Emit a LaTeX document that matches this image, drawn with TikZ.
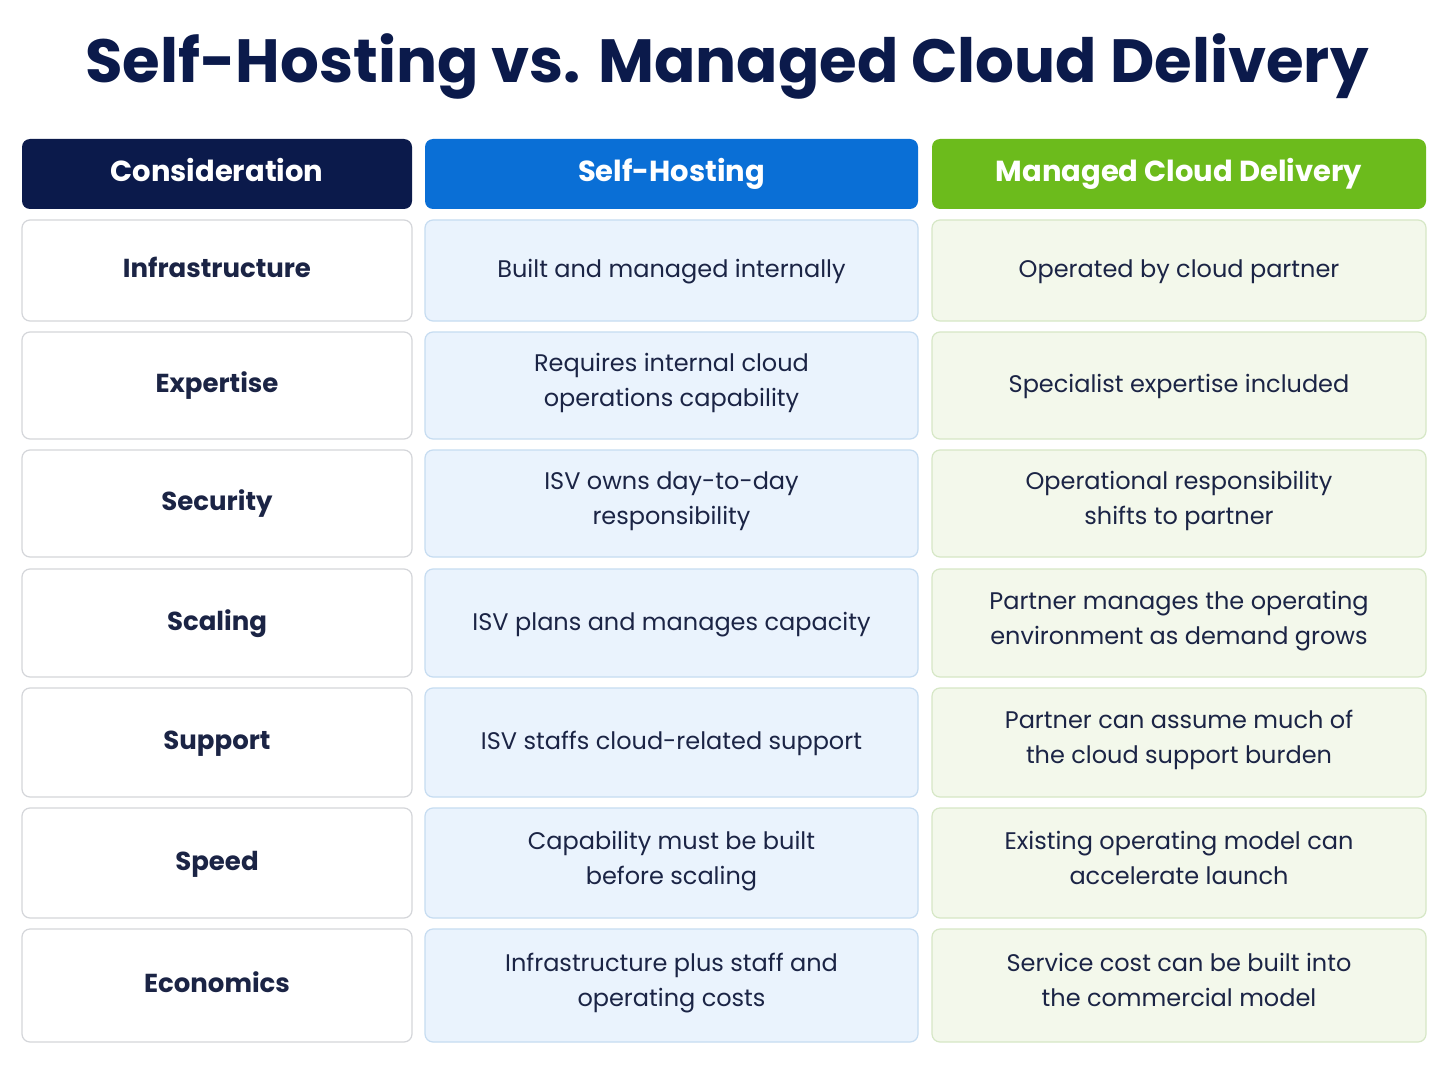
\documentclass[tikz,border=0pt]{standalone}
\usepackage{fontspec}
\setmainfont{Poppins}
\usepackage{tikz}
\usetikzlibrary{positioning}
\definecolor{navy}{HTML}{0B1A4B}
\definecolor{ink}{HTML}{1B2445}
\definecolor{hblue}{HTML}{0A6FD6}
\definecolor{hgreen}{HTML}{6CBB1C}
\definecolor{bfill}{HTML}{EAF3FD}
\definecolor{bline}{HTML}{C6DCF1}
\definecolor{gfill}{HTML}{F3F8EB}
\definecolor{gline}{HTML}{D6E7C6}
\definecolor{wline}{HTML}{D4D6DA}
\begin{document}
\begin{tikzpicture}[x=1pt,y=-1pt,
    cell/.style={rounded corners=8pt,line width=1.2pt,align=center,inner sep=0pt,
        font=\fontsize{24}{35}\selectfont\strut,text=ink},
    keycol/.style={cell,draw=wline,fill=white,minimum width=390pt,font=\fontsize{26}{35}\selectfont\bfseries\strut},
    selfcol/.style={cell,draw=bline,fill=bfill,minimum width=493pt},
    cloudcol/.style={cell,draw=gline,fill=gfill,minimum width=494pt},
    head/.style={rounded corners=8pt,minimum height=70pt,text=white,inner sep=0pt,
        font=\fontsize{29}{36}\selectfont\bfseries\strut}]
\useasboundingbox[fill=white] (0,0) rectangle (1448,1086);
\node[font=\fontsize{61}{70}\selectfont\bfseries,text=navy] (title) at (727,66) {Self-Hosting vs. Managed Cloud Delivery};
% header row
\node[head,fill=navy,minimum width=390pt] (hcon) at (217,174) {Consideration};
\node[head,fill=hblue,minimum width=493pt] (hself) at (671.5,174) {Self-Hosting};
\node[head,fill=hgreen,minimum width=494pt] (hcloud) at (1179,174) {Managed Cloud Delivery};
% body rows
\node[keycol,minimum height=101pt] (infra) at (217,270.5) {Infrastructure};
\node[selfcol,minimum height=101pt] (infraS) at (671.5,270.5) {Built and managed internally};
\node[cloudcol,minimum height=101pt] (infraC) at (1179,270.5) {Operated by cloud partner};

\node[keycol,minimum height=107pt] (exp) at (217,385.5) {Expertise};
\node[selfcol,minimum height=107pt] (expS) at (671.5,385.5) {Requires internal cloud\\operations capability};
\node[cloudcol,minimum height=107pt] (expC) at (1179,385.5) {Specialist expertise included};

\node[keycol,minimum height=107pt] (sec) at (217,503.5) {Security};
\node[selfcol,minimum height=107pt] (secS) at (671.5,503.5) {ISV owns day-to-day\\responsibility};
\node[cloudcol,minimum height=107pt] (secC) at (1179,503.5) {Operational responsibility\\shifts to partner};

\node[keycol,minimum height=108pt] (scal) at (217,623) {Scaling};
\node[selfcol,minimum height=108pt] (scalS) at (671.5,623) {ISV plans and manages capacity};
\node[cloudcol,minimum height=108pt] (scalC) at (1179,623) {Partner manages the operating\\environment as demand grows};

\node[keycol,minimum height=109pt] (sup) at (217,742.5) {Support};
\node[selfcol,minimum height=109pt] (supS) at (671.5,742.5) {ISV staffs cloud-related support};
\node[cloudcol,minimum height=109pt] (supC) at (1179,742.5) {Partner can assume much of\\the cloud support burden};

\node[keycol,minimum height=110pt] (spd) at (217,863) {Speed};
\node[selfcol,minimum height=110pt] (spdS) at (671.5,863) {Capability must be built\\before scaling};
\node[cloudcol,minimum height=110pt] (spdC) at (1179,863) {Existing operating model can\\accelerate launch};

\node[keycol,minimum height=113pt] (eco) at (217,985.5) {Economics};
\node[selfcol,minimum height=113pt] (ecoS) at (671.5,985.5) {Infrastructure plus staff and\\operating costs};
\node[cloudcol,minimum height=113pt] (ecoC) at (1179,985.5) {Service cost can be built into\\the commercial model};
\end{tikzpicture}
\end{document}
